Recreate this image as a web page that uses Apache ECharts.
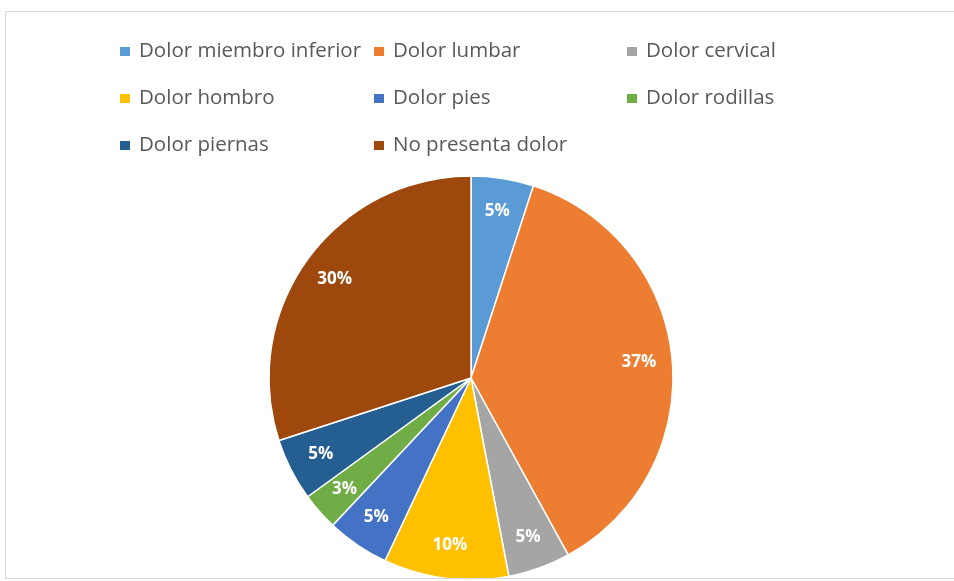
<!DOCTYPE html>
<html><head><meta charset="utf-8">
<script src="https://cdn.jsdelivr.net/npm/echarts@6/dist/echarts.min.js"></script>
<style>html,body{margin:0;padding:0;background:#fff}#c{width:954px;height:581px}
#frame{position:absolute;left:5px;top:11px;width:960px;height:568px;border:1px solid #d9d9d9;box-sizing:border-box;pointer-events:none}</style>
</head><body><div id="c"></div><div id="frame"></div>
<script>
const categories = ['Dolor miembro inferior','Dolor lumbar','Dolor cervical','Dolor hombro','Dolor pies','Dolor rodillas','Dolor piernas','No presenta dolor'];
const values = [5, 37, 5, 10, 5, 3, 5, 30];
const colors = ['#5B9BD5','#ED7D31','#A5A5A5','#FFC000','#4472C4','#70AD47','#255E91','#9E480E'];
const legendCol1 = ['Dolor miembro inferior','Dolor hombro','Dolor piernas'];
const legendCol2 = ['Dolor lumbar','Dolor pies','No presenta dolor'];
const legendCol3 = ['Dolor cervical','Dolor rodillas'];

const data = categories.map((n,i)=>({name:n,value:values[i],itemStyle:{color:colors[i]}}));
const legendBase = {orient:'vertical',icon:'rect',itemWidth:12,itemHeight:11,itemGap:26,padding:0,
  textStyle:{color:'#595959',fontSize:20.5,lineHeight:20,fontFamily:'Open Sans',padding:[0,0,0,3]},selectedMode:false};
const chart = echarts.init(document.getElementById('c'));
const R = 202;
chart.setOption({
  animation:false,
  color: colors,
  legend:[
    Object.assign({},legendBase,{data:legendCol1,left:118,top:41}),
    Object.assign({},legendBase,{data:legendCol2,left:372,top:41}),
    Object.assign({},legendBase,{data:legendCol3,left:625,top:41})
  ],
  series:[
    {type:'pie',center:[471,378],radius:[0,R],startAngle:90,clockwise:true,
     data:data,label:{show:false},labelLine:{show:false},
     itemStyle:{borderColor:'#ffffff',borderWidth:1.5}},
    {type:'pie',center:[471,378],radius:[0,R*1.64],startAngle:90,clockwise:true,silent:true,
     data:categories.map((n,i)=>({name:n,value:values[i],itemStyle:{color:'rgba(0,0,0,0)'}})),
     legendHoverLink:false,
     label:{show:true,position:'inside',formatter:p=>p.value+'%',color:'#ffffff',fontSize:17,fontWeight:'bold',fontFamily:'Open Sans'},
     labelLine:{show:false},itemStyle:{borderWidth:0}}
  ]
});
</script></body></html>
